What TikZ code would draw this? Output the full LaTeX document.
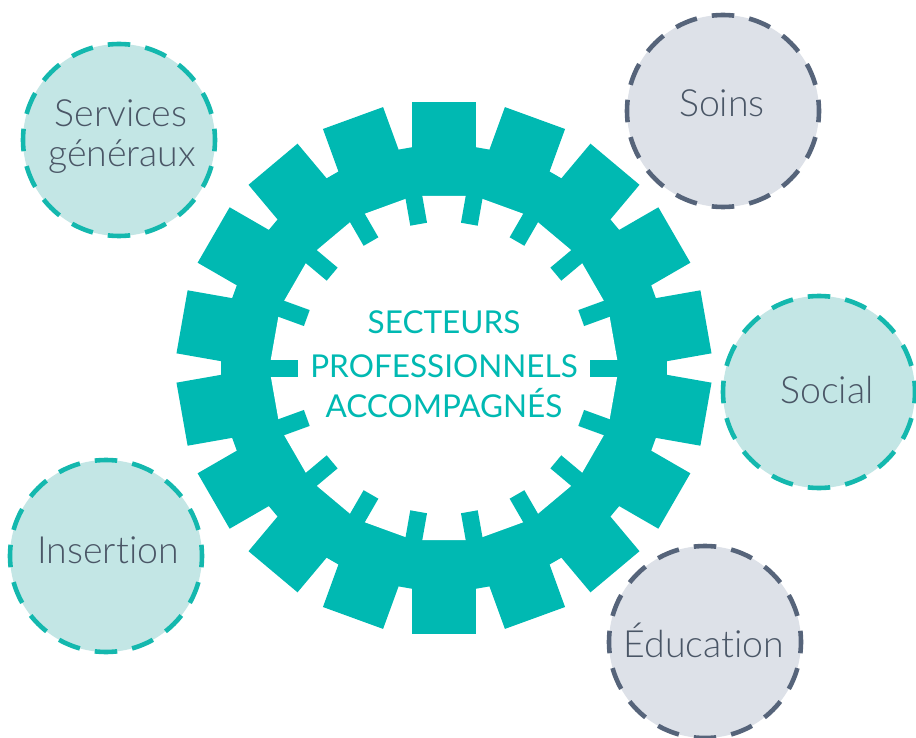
\documentclass[tikz,border=0pt]{standalone}
\usepackage{fontspec}
\setmainfont{Lato}[UprightFont={* Light}, Ligatures={NoCommon}]
\newfontfamily\ctrfont{Lato}[Ligatures={NoCommon}]
\definecolor{gearc}{HTML}{00B9B2}
\definecolor{tealfill}{HTML}{C3E6E5}
\definecolor{tealdash}{HTML}{14B8AE}
\definecolor{greyfill}{HTML}{DDE1E8}
\definecolor{slatedash}{HTML}{56647A}
\definecolor{txt}{HTML}{4A5666}
\tikzset{
  bubble/.style={circle, minimum size=192pt, inner sep=0pt, line width=4.6pt,
    dash pattern=on 22.5pt off 15.2pt, dash phase=11.25pt},
  tealbubble/.style={bubble, fill=tealfill, draw=tealdash},
  greybubble/.style={bubble, fill=greyfill, draw=slatedash},
  lbl/.style={anchor=base, text=txt, font=\fontsize{37.5}{42}\selectfont, inner sep=0pt},
  ctr/.style={anchor=base, text=gearc, font=\ctrfont\fontsize{31.5}{36}\selectfont, inner sep=0pt}
}
\begin{document}
\begin{tikzpicture}[x=1pt,y=-1pt]
\useasboundingbox (0,0) rectangle (916,738);
% gear
\begin{scope}[shift={(444,368)}]
  \fill[gearc] (10:226.4) \foreach \k in {1,...,17}{ -- ({10+20*\k}:226.4)} -- cycle;
  \foreach \k in {0,...,17}{
    \fill[gearc, rotate={10+20*\k}] (195,-32) rectangle (266,32);
  }
  \fill[white] (0:174.7) \foreach \k in {1,...,17}{ -- ({20*\k}:174.7)} -- cycle;
  \foreach \k in {0,...,17}{
    \fill[gearc, rotate={20*\k}] (146,-8.5) rectangle (180,8.5);
  }
\end{scope}
\node[ctr] (c1) at (444,333) {SECTEURS};
\node[ctr] (c2) at (444,377) {PROFESSIONNELS};
\node[ctr] (c3) at (444,417) {ACCOMPAGNÉS};
% bubbles
\node[tealbubble] (sg) at (119,140) {};
\node[greybubble] (so) at (723,111) {};
\node[tealbubble] (sc) at (819,392) {};
\node[tealbubble] (in) at (106,556) {};
\node[greybubble] (ed) at (705,642) {};
\node[lbl] (sgt1) at (121,127) {Services};
\node[lbl] (sgt2) at (122,167) {généraux};
\node[lbl] (sot) at (722,117) {Soins};
\node[lbl] (sct) at (827,403) {Social};
\node[lbl] (intx) at (108,563) {Insertion};
\node[lbl] (edt) at (704,657) {Éducation};
\end{tikzpicture}
\end{document}
